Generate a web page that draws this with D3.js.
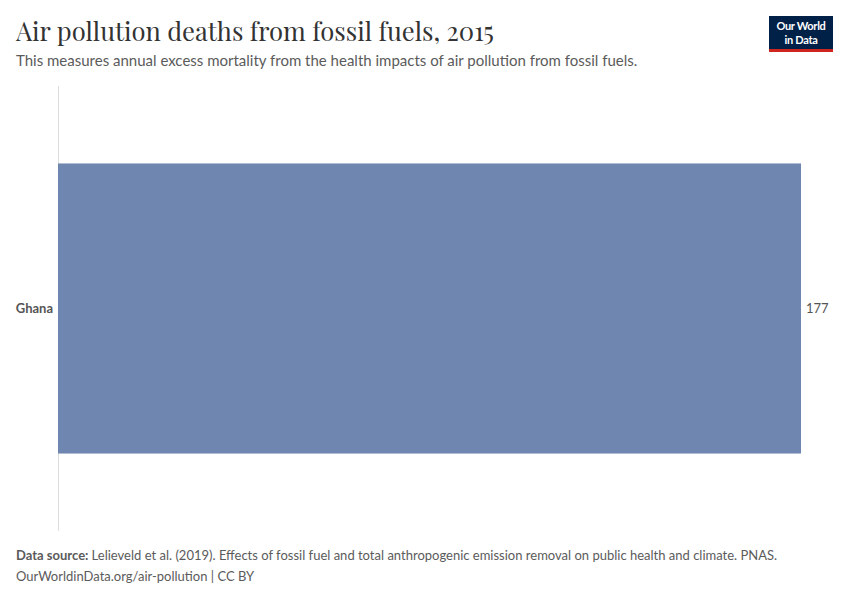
<!DOCTYPE html>
<html><head><meta charset="utf-8">
<script src="https://cdn.jsdelivr.net/npm/d3@7"></script>
<style>body{margin:0;background:#fff}</style>
</head><body>
<svg id="c" width="850" height="600"></svg>
<script>
const categories = ["Ghana"];
const values = [177];
const title = "Air pollution deaths from fossil fuels, 2015";
const subtitle = "This measures annual excess mortality from the health impacts of air pollution from fossil fuels.";

const svg = d3.select("#c");
svg.append("rect").attr("width",850).attr("height",600).attr("fill","#fff");

svg.append("text").attr("x",16).attr("y",41).attr("font-family","'Playfair Display','Liberation Serif',serif")
  .attr("font-size",25.6).attr("fill","#333").text(title);
svg.append("text").attr("x",16).attr("y",66).attr("font-family","Lato,sans-serif")
  .attr("font-size",15).attr("fill","#5b5b5b").text(subtitle);

// logo
const lg = svg.append("g").attr("transform","translate(769,16)");
lg.append("rect").attr("width",64).attr("height",36).attr("fill","#002147");
lg.append("rect").attr("y",33).attr("width",64).attr("height",3).attr("fill","#ce261e");
lg.append("text").attr("x",32).attr("y",14).attr("text-anchor","middle").attr("font-family","Lato,sans-serif")
  .attr("font-size",11).attr("font-weight",700).attr("fill","#fff").attr("letter-spacing",-0.3).text("Our World");
lg.append("text").attr("x",32).attr("y",27.5).attr("text-anchor","middle").attr("font-family","Lato,sans-serif")
  .attr("font-size",11).attr("font-weight",700).attr("fill","#fff").attr("letter-spacing",-0.3).text("in Data");

const x = d3.scaleLinear().domain([0, d3.max(values)]).range([58, 801]);
const y = d3.scaleBand().domain(categories).range([86, 531]).paddingInner(0).paddingOuter(0.267);

svg.append("line").attr("x1",58.5).attr("x2",58.5).attr("y1",86).attr("y2",531)
  .attr("stroke","#ddd").attr("stroke-width",1);

svg.selectAll("rect.bar").data(values).join("rect").attr("class","bar")
  .attr("x",x(0)).attr("y",(d,i)=>y(categories[i])).attr("width",d=>x(d)-x(0))
  .attr("height",y.bandwidth()).attr("fill","#6f87b0");

svg.selectAll("text.cat").data(categories).join("text").attr("class","cat")
  .attr("x",53).attr("y",d=>y(d)+y.bandwidth()/2).attr("dy","0.35em").attr("text-anchor","end")
  .attr("font-family","Lato,sans-serif").attr("font-size",13).attr("font-weight",700).attr("fill","#555").text(d=>d);

svg.selectAll("text.val").data(values).join("text").attr("class","val")
  .attr("x",d=>x(d)+5).attr("y",(d,i)=>y(categories[i])+y.bandwidth()/2).attr("dy","0.35em")
  .attr("font-family","Lato,sans-serif").attr("font-size",13).attr("fill","#555").text(d=>d3.format(",")(d));

const f = svg.append("text").attr("x",16).attr("y",560).attr("font-family","Lato,sans-serif").attr("font-size",13).attr("fill","#5b5b5b");
f.append("tspan").attr("font-weight",700).text("Data source: ");
f.append("tspan").text("Lelieveld et al. (2019). Effects of fossil fuel and total anthropogenic emission removal on public health and climate. PNAS.");
svg.append("text").attr("x",16).attr("y",581).attr("font-family","Lato,sans-serif").attr("font-size",13).attr("fill","#5b5b5b")
  .text("OurWorldinData.org/air-pollution | CC BY");
</script>
</body></html>
